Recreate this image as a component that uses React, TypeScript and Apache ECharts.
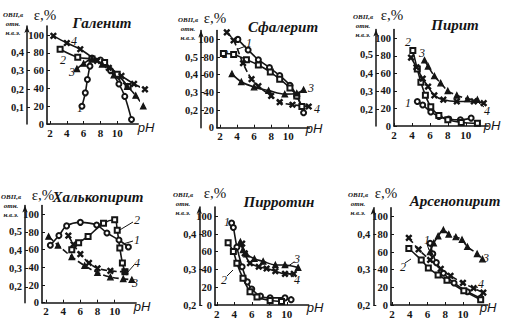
import React, { useEffect, useRef } from "react";
import * as echarts from "echarts";

// ---------- text ----------
const panelTitles = ["Галенит", "Сфалерит", "Пирит", "Халькопирит", "Пирротин", "Арсенопирит"];
const curveNames = ["1", "2", "3", "4"];
const xTicks = [2, 4, 6, 8, 10];
const epsTicks = [0, 20, 40, 60, 80, 100];
const ovpTicks1 = [0, 0.1, 0.2, 0.3, 0.4];
const ovpTicks2 = [0.1, 0.2, 0.3, 0.4, 0.5];
const ovpTicks3 = [0.2, 0.3, 0.4];
const ovpTickSets = [ovpTicks1, ovpTicks2, ovpTicks2, ovpTicks2, ovpTicks3, ovpTicks3];

// ---------- data [pH, ε %] ----------
// Галенит
const galena1 = [[5.8, 20], [6.2, 35], [6.45, 50], [6.75, 65], [7.0, 74], [8.0, 72], [9.2, 60], [10.2, 45], [10.9, 31], [11.7, 5]];
const galena2 = [[3.2, 84], [5.3, 75], [7.0, 73], [8.5, 69], [10.0, 56], [11.3, 42]];
const galena3 = [[5.2, 62], [6.0, 68], [7.0, 73], [8.2, 67], [9.6, 55], [11.2, 42], [12.2, 32], [13.1, 20]];
const galena4 = [[2.4, 99], [4.0, 91], [5.6, 84], [7.6, 71], [9.0, 63], [10.5, 54], [12.0, 45], [13.3, 39]];
// Сфалерит
const sphal1 = [[4.1, 100], [5.3, 88], [6.5, 77], [7.8, 68], [9.0, 59], [10.2, 48], [11.0, 36], [11.8, 17]];
const sphal2 = [[2.4, 84], [3.6, 83], [5.1, 77], [6.5, 71], [7.9, 63], [9.0, 55], [10.2, 45], [11.0, 36], [11.6, 24]];
const sphal3 = [[3.4, 61], [4.5, 52], [6.0, 46], [7.7, 42], [9.6, 38], [11.0, 39], [11.8, 43]];
const sphal4 = [[2.8, 108], [3.6, 99], [4.7, 73], [5.7, 55], [6.5, 47], [8.0, 36], [9.0, 29], [10.5, 26], [12.4, 24]];
// Пирит
const pyrite1 = [[4.6, 28], [5.2, 24], [6.1, 16], [7.0, 11], [8.1, 8], [9.4, 7], [10.6, 9]];
const pyrite2 = [[4.1, 86], [4.6, 65], [5.0, 50], [5.5, 35], [6.1, 22], [7.0, 12], [8.0, 7], [9.5, 4], [11.3, 3]];
const pyrite3 = [[5.4, 75], [5.8, 68], [6.5, 57], [7.2, 49], [8.0, 40], [9.0, 35], [10.2, 31], [11.3, 30]];
const pyrite4 = [[3.9, 78], [4.5, 67], [5.2, 54], [5.8, 45], [6.5, 35], [7.5, 30], [9.0, 28], [10.9, 28], [12.0, 26]];
// Халькопирит
const chalco1 = [[2.5, 65], [3.5, 76], [4.4, 87], [6.0, 91], [7.9, 88], [9.1, 79], [10.5, 71], [11.6, 63]];
const chalco2 = [[5.0, 60], [5.8, 68], [6.9, 75], [8.7, 90], [10.0, 94], [10.3, 82], [10.6, 62], [10.9, 45], [11.2, 35]];
const chalco3 = [[2.3, 75], [3.4, 65], [5.0, 52], [6.5, 42], [8.0, 34], [9.5, 29], [11.0, 27], [12.0, 26]];
const chalco4 = [[4.6, 76], [5.2, 66], [6.0, 55], [7.0, 45], [8.0, 39], [9.5, 36], [11.2, 35]];
// Пирротин
const pyrrh1 = [[3.7, 92], [3.9, 87], [4.3, 65], [4.9, 43], [5.5, 26], [6.0, 18], [7.0, 10], [8.1, 8], [9.8, 8], [10.5, 6]];
const pyrrh2 = [[3.3, 70], [3.9, 60], [4.3, 47], [5.0, 30], [5.8, 15], [6.6, 9], [8.1, 5], [9.4, 4]];
const pyrrh3 = [[4.7, 71], [5.0, 62], [5.4, 57], [6.3, 52], [7.3, 49], [8.7, 45], [9.8, 45], [11.3, 42]];
const pyrrh4 = [[4.9, 69], [5.2, 58], [5.8, 47], [6.8, 43], [7.7, 41], [8.7, 38], [9.8, 35], [10.8, 35]];
// Арсенопирит
const arseno1 = [[6.3, 70], [6.6, 58], [7.0, 48], [7.8, 36], [9.0, 25], [10.5, 15], [12.0, 8]];
const arseno2 = [[3.9, 64], [5.3, 51], [6.1, 42], [7.2, 34], [8.2, 28], [10.1, 16], [12.0, 6]];
const arseno3 = [[6.3, 60], [6.7, 70], [7.2, 78], [7.8, 85], [8.4, 80], [9.2, 77], [9.9, 74], [10.5, 66], [11.6, 58], [12.2, 52]];
const arseno4 = [[3.9, 76], [5.0, 63], [6.3, 51], [7.5, 41], [8.6, 33], [10.0, 25], [11.2, 19], [12.3, 14]];

const panelData = [
  [galena1, galena2, galena3, galena4],
  [sphal1, sphal2, sphal3, sphal4],
  [pyrite1, pyrite2, pyrite3, pyrite4],
  [chalco1, chalco2, chalco3, chalco4],
  [pyrrh1, pyrrh2, pyrrh3, pyrrh4],
  [arseno1, arseno2, arseno3, arseno4],
];

// ---------- layout / style ----------
const INK = "#151515";
const SERIF = '"Liberation Serif", "DejaVu Serif", serif';
const SANS = '"Liberation Sans", Arial, sans-serif';
const EPS_MAX = 110;

type Layout = {
  axisX: number; xMin: number; xMax: number; ppu: number;
  y0: number; ppe: number; outerX: number; oMin: number; oMax: number;
  dash: string[];
  title: [number, number]; eps: [number, number]; ovp: [number, number]; ph: [number, number];
  labels: [number, number][];
  leaders: [number, number, number, number][];
};

const layouts: Layout[] = [
  { axisX: 47, xMin: 1.64, xMax: 12.5, ppu: 8.4, y0: 124, ppe: 0.89, outerX: 27, oMin: 0.011, oMax: 0.54,
    dash: ["solid", "solid", "dashed", "solid"],
    title: [102, 23], eps: [45, 15], ovp: [13, 15], ph: [146, 127],
    labels: [[80, 108], [63, 60], [72, 72], [74, 41]], leaders: [] },
  { axisX: 217, xMin: 1.65, xMax: 12.5, ppu: 8.53, y0: 127.7, ppe: 0.883, outerX: 201, oMin: 0.102, oMax: 0.649,
    dash: ["solid", "solid", "solid", "dashed"],
    title: [283, 27], eps: [215, 18], ovp: [188, 20], ph: [314, 128],
    labels: [[249, 43], [225, 54], [311, 88], [317, 109]], leaders: [[246, 46, 238, 49]] },
  { axisX: 394, xMin: 2.0, xMax: 12.5, ppu: 8.97, y0: 126, ppe: 0.877, outerX: 376, oMin: 0.109, oMax: 0.64,
    dash: ["solid", "solid", "dashed", "solid"],
    title: [455, 25], eps: [392, 15], ovp: [363, 17], ph: [492, 125],
    labels: [[408, 103], [408, 42], [422, 53], [487, 111]], leaders: [[484, 107, 479, 103]] },
  { axisX: 42, xMin: 1.53, xMax: 12.5, ppu: 8.58, y0: 302.7, ppe: 0.883, outerX: 25, oMin: 0.113, oMax: 0.644,
    dash: ["solid", "solid", "dashed", "dashed"],
    title: [98, 197], eps: [43, 195], ovp: [11, 197], ph: [142, 306],
    labels: [[137, 240], [137, 220], [135, 283], [137, 263]],
    leaders: [[133, 222, 118, 231], [133, 241, 123, 244], [134, 265, 127, 273]] },
  { axisX: 215, xMin: 1.8, xMax: 12.5, ppu: 8.75, y0: 305, ppe: 0.89, outerX: 199.3, oMin: 0.2, oMax: 0.476,
    dash: ["solid", "solid", "solid", "solid"],
    title: [279, 202], eps: [215, 193], ovp: [183, 195], ph: [315, 307],
    labels: [[227, 222], [224, 280], [297, 259], [297, 280]],
    leaders: [[294, 262, 287, 267], [294, 277, 287, 272], [227, 276, 233, 270]] },
  { axisX: 391, xMin: 1.89, xMax: 12.8, ppu: 8.87, y0: 305, ppe: 0.883, outerX: 373.3, oMin: 0.2, oMax: 0.474,
    dash: ["solid", "solid", "dashed", "dashed"],
    title: [455, 201], eps: [386, 193], ovp: [358, 195], ph: [488, 307],
    labels: [[427, 240], [403, 267], [486, 258], [481, 284]],
    leaders: [[478, 287, 470, 291], [405, 263, 411, 259], [427, 244, 429, 250]] },
];

const CROSS = "path://M0,1.6L1.6,0L5,3.4L8.4,0L10,1.6L6.6,5L10,8.4L8.4,10L5,6.6L1.6,10L0,8.4L3.4,5Z";
const curveSymbols = ["emptyCircle", "emptyRect", "triangle", CROSS];
const curveSymbolSizes = [5, 5, 5.5, 5.5];

function buildOption() {
  const grid: any[] = [];
  const xAxis: any[] = [];
  const yAxis: any[] = [];
  const series: any[] = [];
  const graphic: any[] = [];

  layouts.forEach((L, i) => {
    const height = EPS_MAX * L.ppe;
    grid.push({
      left: L.axisX, top: L.y0 - height, width: (L.xMax - L.xMin) * L.ppu, height,
      containLabel: false, outerBoundsMode: "none",
    });
    xAxis.push({
      type: "value", gridIndex: i, min: L.xMin, max: L.xMax,
      splitLine: { show: false },
      axisLine: { show: true, onZero: false, lineStyle: { color: INK, width: 1.6 } },
      axisTick: { show: true, inside: true, length: 3, customValues: xTicks, lineStyle: { color: INK } },
      axisLabel: { customValues: xTicks, margin: 3, color: INK, fontFamily: SERIF, fontWeight: "bold", fontSize: 11 },
    });
    yAxis.push({
      type: "value", gridIndex: i, min: 0, max: EPS_MAX, position: "left",
      splitLine: { show: false },
      axisLine: { show: true, onZero: false, lineStyle: { color: INK, width: 1.6 } },
      axisTick: { show: true, inside: true, length: 3, customValues: epsTicks, lineStyle: { color: INK } },
      axisLabel: { customValues: epsTicks, margin: 3, color: INK, fontFamily: SERIF, fontWeight: "bold", fontSize: 10.5 },
    });
    const ovp = ovpTickSets[i];
    yAxis.push({
      type: "value", gridIndex: i, min: L.oMin, max: L.oMax, position: "left", offset: L.axisX - L.outerX,
      splitLine: { show: false },
      axisLine: { show: true, onZero: false, symbol: ["none", "arrow"], symbolSize: [4, 7], lineStyle: { color: INK, width: 1.5 } },
      axisTick: { show: true, inside: true, length: 3, customValues: ovp, lineStyle: { color: INK } },
      axisLabel: {
        customValues: ovp, margin: 3, color: INK, fontFamily: SERIF, fontWeight: "bold", fontSize: 10.5,
        formatter: (v: number) => v.toFixed(1).replace(".", ","),
      },
    });

    panelData[i].forEach((d, k) => {
      series.push({
        type: "line", name: `${panelTitles[i]} ${curveNames[k]}`,
        xAxisIndex: i, yAxisIndex: 2 * i, data: d,
        smooth: 0.35, clip: false, silent: true,
        symbol: curveSymbols[k], symbolSize: curveSymbolSizes[k], showAllSymbol: true,
        lineStyle: { color: INK, width: 1.6, type: L.dash[k] },
        itemStyle: { color: INK, borderColor: INK, borderWidth: 1.2 },
      });
    });

    const txt = (x: number, y: number, text: string, font: string, align = "center") => ({
      type: "text", x, y, silent: true,
      style: { text, font, fill: INK, textAlign: align, textVerticalAlign: "middle", align, verticalAlign: "middle" },
    });
    graphic.push(txt(L.title[0], L.title[1], panelTitles[i], `italic bold 15px ${SERIF}`));
    graphic.push(txt(L.eps[0], L.eps[1], "ε,%", `15px ${SERIF}`));
    graphic.push(txt(L.ovp[0], L.ovp[1], "ОВП,в", `italic bold 7px ${SERIF}`));
    graphic.push(txt(L.ovp[0], L.ovp[1] + 9, "отн.", `italic bold 7px ${SERIF}`));
    graphic.push(txt(L.ovp[0], L.ovp[1] + 18, "н.в.э.", `italic bold 7px ${SERIF}`));
    graphic.push(txt(L.ph[0], L.ph[1], "pH", `italic 13px ${SANS}`));
    L.labels.forEach((p, k) => graphic.push(txt(p[0], p[1], curveNames[k], `italic 12px ${SERIF}`)));
    L.leaders.forEach((l) => graphic.push({
      type: "line", silent: true, shape: { x1: l[0], y1: l[1], x2: l[2], y2: l[3] },
      style: { stroke: INK, lineWidth: 1 },
    }));
  });

  return {
    animation: false,
    backgroundColor: "#ffffff",
    grid, xAxis, yAxis, series, graphic,
  };
}

export default function App() {
  const ref = useRef<HTMLDivElement>(null);
  useEffect(() => {
    document.body.style.margin = "0";
    const chart = echarts.init(ref.current!, undefined, { renderer: "svg" });
    chart.setOption(buildOption() as any);
    return () => chart.dispose();
  }, []);
  return <div ref={ref} style={{ position: "fixed", left: 0, top: 0, width: 518, height: 323, background: "#fff" }} />;
}
